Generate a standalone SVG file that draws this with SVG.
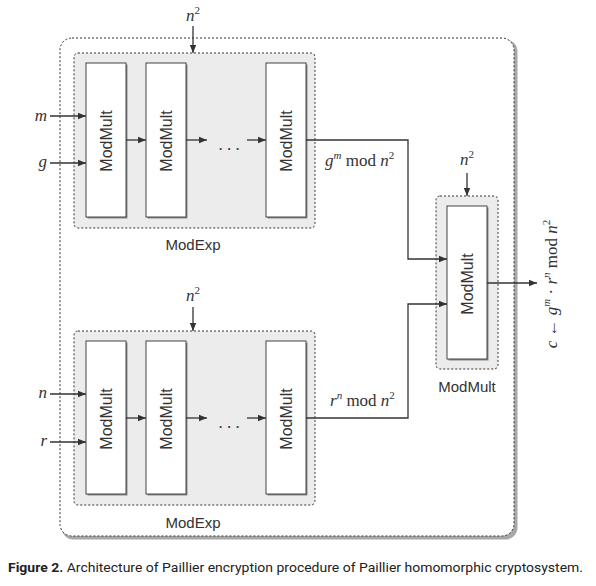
<svg xmlns="http://www.w3.org/2000/svg" width="596" height="586" viewBox="0 0 596 586">
<defs>
<style>
.dot{fill:none;stroke:#333;stroke-width:1;stroke-dasharray:2 2}
.grp{fill:#ececec;stroke:#333;stroke-width:1;stroke-dasharray:2 2}
.sh{fill:#888}
.mm{fill:#fff;stroke:#444;stroke-width:1}
.lbl{font-family:"Liberation Sans",Arial,sans-serif;font-size:15px;fill:#333}
.vl{font-family:"Liberation Sans",Arial,sans-serif;font-size:16px;fill:#333}
.mt{font-family:"Liberation Serif","Times New Roman",serif;font-size:17px;fill:#333}
.it{font-style:italic}
.ln{fill:none;stroke:#333;stroke-width:1.3}
</style>
<marker id="ah" viewBox="0 0 10 10" refX="10" refY="5" markerWidth="8" markerHeight="8" markerUnits="userSpaceOnUse" orient="auto">
<path d="M0,1 L10,5 L0,9 z" fill="#333"/>
</marker>
</defs>
<rect width="596" height="586" fill="#fff"/>

<g id="outer">
<rect x="61.5" y="39.5" width="456" height="500" rx="12" fill="#a8a8a8"/>
<rect x="60" y="38" width="454" height="498" rx="12" fill="#fff"/>
<rect x="60" y="38" width="454" height="498" rx="12" class="dot"/>
</g>

<g id="modexp-top">
<rect x="74" y="53" width="241" height="175" rx="4" class="grp"/>
<rect x="87.5" y="64.5" width="40" height="154" class="sh"/>
<rect x="86" y="63" width="40" height="154" class="mm"/>
<rect x="147.5" y="64.5" width="40" height="154" class="sh"/>
<rect x="146" y="63" width="40" height="154" class="mm"/>
<rect x="267.5" y="64.5" width="40" height="154" class="sh"/>
<rect x="266" y="63" width="40" height="154" class="mm"/>
<text class="vl" transform="translate(111.5,141) rotate(-90)" text-anchor="middle">ModMult</text>
<text class="vl" transform="translate(171.5,141) rotate(-90)" text-anchor="middle">ModMult</text>
<text class="vl" transform="translate(291.5,141) rotate(-90)" text-anchor="middle">ModMult</text>
<text class="mt" x="229" y="150" text-anchor="middle" font-size="12">. . .</text>
<text class="lbl" x="193" y="250" text-anchor="middle">ModExp</text>
</g>

<g id="modexp-bottom">
<rect x="74" y="331" width="241" height="174" rx="4" class="grp"/>
<rect x="87.5" y="342.5" width="40" height="153" class="sh"/>
<rect x="86" y="341" width="40" height="153" class="mm"/>
<rect x="147.5" y="342.5" width="40" height="153" class="sh"/>
<rect x="146" y="341" width="40" height="153" class="mm"/>
<rect x="267.5" y="342.5" width="40" height="153" class="sh"/>
<rect x="266" y="341" width="40" height="153" class="mm"/>
<text class="vl" transform="translate(111.5,419) rotate(-90)" text-anchor="middle">ModMult</text>
<text class="vl" transform="translate(171.5,419) rotate(-90)" text-anchor="middle">ModMult</text>
<text class="vl" transform="translate(291.5,419) rotate(-90)" text-anchor="middle">ModMult</text>
<text class="mt" x="229" y="428" text-anchor="middle" font-size="12">. . .</text>
<text class="lbl" x="193" y="528" text-anchor="middle">ModExp</text>
</g>

<g id="modmult-final">
<rect x="436" y="196" width="62" height="173" rx="4" class="grp"/>
<rect x="448.5" y="207.5" width="40" height="153" class="sh"/>
<rect x="447" y="206" width="40" height="153" class="mm"/>
<text class="vl" transform="translate(472.5,284) rotate(-90)" text-anchor="middle">ModMult</text>
<text class="lbl" x="467" y="392" text-anchor="middle">ModMult</text>
</g>

<g id="connectors">
<line class="ln" x1="193" y1="26" x2="193" y2="53" marker-end="url(#ah)"/>
<line class="ln" x1="50" y1="116" x2="86" y2="116" marker-end="url(#ah)"/>
<line class="ln" x1="50" y1="163" x2="86" y2="163" marker-end="url(#ah)"/>
<line class="ln" x1="126" y1="140" x2="146" y2="140" marker-end="url(#ah)"/>
<line class="ln" x1="186" y1="140" x2="207" y2="140" marker-end="url(#ah)"/>
<line class="ln" x1="247" y1="140" x2="266" y2="140" marker-end="url(#ah)"/>
<polyline class="ln" points="306,140 408,140 408,259 447,259" marker-end="url(#ah)"/>

<line class="ln" x1="193" y1="307" x2="193" y2="331" marker-end="url(#ah)"/>
<line class="ln" x1="50" y1="394" x2="86" y2="394" marker-end="url(#ah)"/>
<line class="ln" x1="50" y1="442" x2="86" y2="442" marker-end="url(#ah)"/>
<line class="ln" x1="126" y1="418" x2="146" y2="418" marker-end="url(#ah)"/>
<line class="ln" x1="186" y1="418" x2="207" y2="418" marker-end="url(#ah)"/>
<line class="ln" x1="247" y1="418" x2="266" y2="418" marker-end="url(#ah)"/>
<polyline class="ln" points="306,418 408,418 408,304 447,304" marker-end="url(#ah)"/>

<line class="ln" x1="467" y1="173" x2="467" y2="196" marker-end="url(#ah)"/>
<line class="ln" x1="487" y1="283" x2="537" y2="283" marker-end="url(#ah)"/>
</g>

<g id="labels">
<text class="mt" x="193" y="21" text-anchor="middle"><tspan class="it">n</tspan><tspan font-size="11" dy="-7">2</tspan></text>
<text class="mt" x="193" y="301" text-anchor="middle"><tspan class="it">n</tspan><tspan font-size="11" dy="-7">2</tspan></text>
<text class="mt" x="467" y="165" text-anchor="middle"><tspan class="it">n</tspan><tspan font-size="11" dy="-7">2</tspan></text>
<text class="mt it" x="47" y="121" text-anchor="end">m</text>
<text class="mt it" x="47" y="167" text-anchor="end">g</text>
<text class="mt it" x="47" y="398" text-anchor="end">n</text>
<text class="mt it" x="47" y="446" text-anchor="end">r</text>
<text class="mt" x="325" y="166"><tspan class="it">g</tspan><tspan class="it" font-size="11" dy="-7">m</tspan><tspan dy="7"> mod </tspan><tspan class="it">n</tspan><tspan font-size="11" dy="-7">2</tspan></text>
<text class="mt" x="330" y="406"><tspan class="it">r</tspan><tspan class="it" font-size="11" dy="-7">n</tspan><tspan dy="7"> mod </tspan><tspan class="it">n</tspan><tspan font-size="11" dy="-7">2</tspan></text>
<text class="mt" transform="translate(557,284) rotate(-90)" text-anchor="middle"><tspan class="it">c</tspan><tspan> ← </tspan><tspan class="it">g</tspan><tspan class="it" font-size="11" dy="-7">m</tspan><tspan dy="7"> · </tspan><tspan class="it">r</tspan><tspan class="it" font-size="11" dy="-7">n</tspan><tspan dy="7"> mod </tspan><tspan class="it">n</tspan><tspan font-size="11" dy="-7">2</tspan></text>
</g>

<text x="8" y="572" font-family="Roboto,'Liberation Sans',sans-serif" font-size="13" fill="#222" textLength="575" lengthAdjust="spacingAndGlyphs"><tspan font-weight="bold">Figure 2.</tspan> Architecture of Paillier encryption procedure of Paillier homomorphic cryptosystem.</text>
</svg>
